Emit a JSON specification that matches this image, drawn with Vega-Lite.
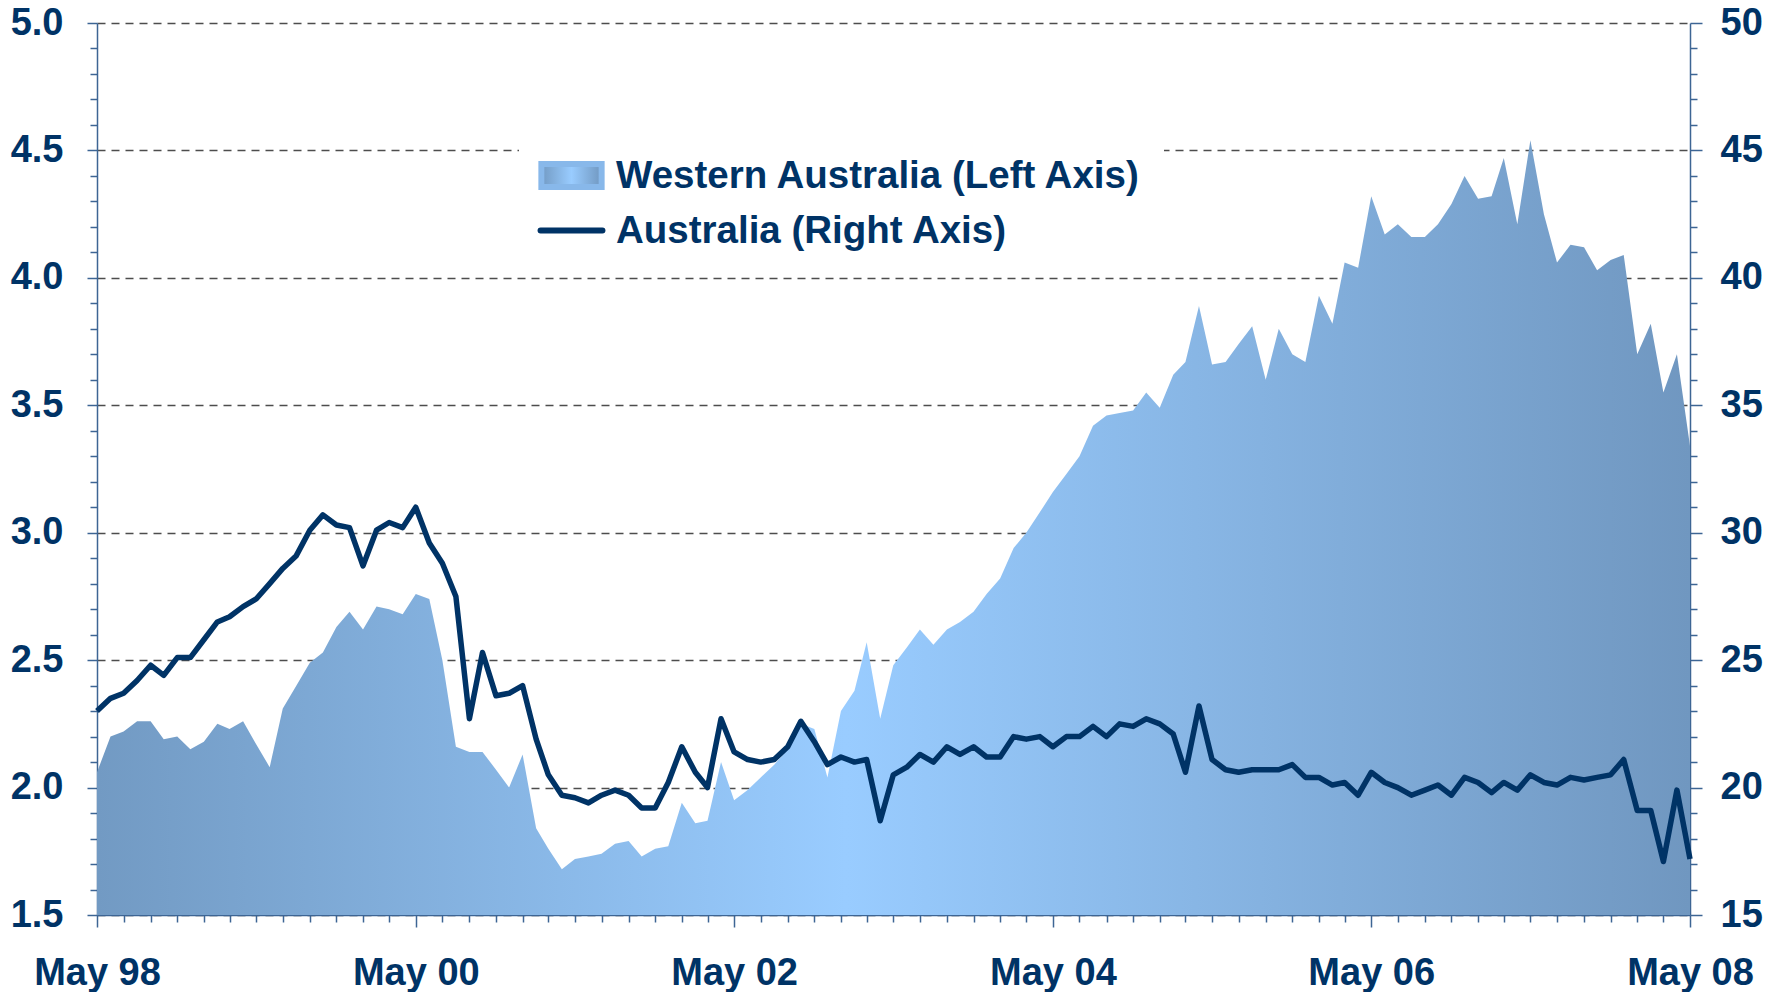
{
  "$schema": "https://vega.github.io/schema/vega-lite/v6.json",
  "width": 1593,
  "height": 892,
  "autosize": {"type": "none"},
  "padding": {"left": 97, "top": 23, "right": 92, "bottom": 77},
  "background": "white",
  "config": {
    "view": {"stroke": null},
    "font": "Liberation Sans",
    "axis": {
      "labelFont": "Liberation Sans",
      "labelFontSize": 38,
      "labelFontWeight": "bold",
      "labelColor": "#003366",
      "domainColor": "#3d6594",
      "domainWidth": 1.5,
      "tickColor": "#3d6594",
      "tickWidth": 1.5,
      "title": null
    }
  },
  "data": {"values": [
    {"date": "1998-05-01", "wa": 2.06, "au": 23.0},
    {"date": "1998-06-01", "wa": 2.20, "au": 23.5},
    {"date": "1998-07-01", "wa": 2.22, "au": 23.7},
    {"date": "1998-08-01", "wa": 2.26, "au": 24.2},
    {"date": "1998-09-01", "wa": 2.26, "au": 24.8},
    {"date": "1998-10-01", "wa": 2.19, "au": 24.4},
    {"date": "1998-11-01", "wa": 2.20, "au": 25.1},
    {"date": "1998-12-01", "wa": 2.15, "au": 25.1},
    {"date": "1999-01-01", "wa": 2.18, "au": 25.8},
    {"date": "1999-02-01", "wa": 2.25, "au": 26.5},
    {"date": "1999-03-01", "wa": 2.23, "au": 26.7},
    {"date": "1999-04-01", "wa": 2.26, "au": 27.1},
    {"date": "1999-05-01", "wa": 2.17, "au": 27.4},
    {"date": "1999-06-01", "wa": 2.08, "au": 28.0},
    {"date": "1999-07-01", "wa": 2.31, "au": 28.6},
    {"date": "1999-08-01", "wa": 2.40, "au": 29.1},
    {"date": "1999-09-01", "wa": 2.49, "au": 30.1},
    {"date": "1999-10-01", "wa": 2.53, "au": 30.7},
    {"date": "1999-11-01", "wa": 2.63, "au": 30.3},
    {"date": "1999-12-01", "wa": 2.69, "au": 30.2},
    {"date": "2000-01-01", "wa": 2.62, "au": 28.7},
    {"date": "2000-02-01", "wa": 2.71, "au": 30.1},
    {"date": "2000-03-01", "wa": 2.70, "au": 30.4},
    {"date": "2000-04-01", "wa": 2.68, "au": 30.2},
    {"date": "2000-05-01", "wa": 2.76, "au": 31.0},
    {"date": "2000-06-01", "wa": 2.74, "au": 29.6},
    {"date": "2000-07-01", "wa": 2.50, "au": 28.8},
    {"date": "2000-08-01", "wa": 2.16, "au": 27.5},
    {"date": "2000-09-01", "wa": 2.14, "au": 22.7},
    {"date": "2000-10-01", "wa": 2.14, "au": 25.3},
    {"date": "2000-11-01", "wa": 2.07, "au": 23.6},
    {"date": "2000-12-01", "wa": 2.00, "au": 23.7},
    {"date": "2001-01-01", "wa": 2.13, "au": 24.0},
    {"date": "2001-02-01", "wa": 1.84, "au": 21.9},
    {"date": "2001-03-01", "wa": 1.76, "au": 20.5},
    {"date": "2001-04-01", "wa": 1.68, "au": 19.7},
    {"date": "2001-05-01", "wa": 1.72, "au": 19.6},
    {"date": "2001-06-01", "wa": 1.73, "au": 19.4},
    {"date": "2001-07-01", "wa": 1.74, "au": 19.7},
    {"date": "2001-08-01", "wa": 1.78, "au": 19.9},
    {"date": "2001-09-01", "wa": 1.79, "au": 19.7},
    {"date": "2001-10-01", "wa": 1.73, "au": 19.2},
    {"date": "2001-11-01", "wa": 1.76, "au": 19.2},
    {"date": "2001-12-01", "wa": 1.77, "au": 20.2},
    {"date": "2002-01-01", "wa": 1.94, "au": 21.6},
    {"date": "2002-02-01", "wa": 1.86, "au": 20.6},
    {"date": "2002-03-01", "wa": 1.87, "au": 20.0},
    {"date": "2002-04-01", "wa": 2.10, "au": 22.7},
    {"date": "2002-05-01", "wa": 1.95, "au": 21.4},
    {"date": "2002-06-01", "wa": 1.99, "au": 21.1},
    {"date": "2002-07-01", "wa": 2.04, "au": 21.0},
    {"date": "2002-08-01", "wa": 2.09, "au": 21.1},
    {"date": "2002-09-01", "wa": 2.15, "au": 21.6},
    {"date": "2002-10-01", "wa": 2.25, "au": 22.6},
    {"date": "2002-11-01", "wa": 2.23, "au": 21.8},
    {"date": "2002-12-01", "wa": 2.04, "au": 20.9},
    {"date": "2003-01-01", "wa": 2.30, "au": 21.2},
    {"date": "2003-02-01", "wa": 2.38, "au": 21.0},
    {"date": "2003-03-01", "wa": 2.57, "au": 21.1},
    {"date": "2003-04-01", "wa": 2.27, "au": 18.7},
    {"date": "2003-05-01", "wa": 2.48, "au": 20.5},
    {"date": "2003-06-01", "wa": 2.55, "au": 20.8},
    {"date": "2003-07-01", "wa": 2.62, "au": 21.3},
    {"date": "2003-08-01", "wa": 2.56, "au": 21.0},
    {"date": "2003-09-01", "wa": 2.62, "au": 21.6},
    {"date": "2003-10-01", "wa": 2.65, "au": 21.3},
    {"date": "2003-11-01", "wa": 2.69, "au": 21.6},
    {"date": "2003-12-01", "wa": 2.76, "au": 21.2},
    {"date": "2004-01-01", "wa": 2.82, "au": 21.2},
    {"date": "2004-02-01", "wa": 2.94, "au": 22.0},
    {"date": "2004-03-01", "wa": 3.00, "au": 21.9},
    {"date": "2004-04-01", "wa": 3.08, "au": 22.0},
    {"date": "2004-05-01", "wa": 3.16, "au": 21.6},
    {"date": "2004-06-01", "wa": 3.23, "au": 22.0},
    {"date": "2004-07-01", "wa": 3.30, "au": 22.0},
    {"date": "2004-08-01", "wa": 3.42, "au": 22.4},
    {"date": "2004-09-01", "wa": 3.46, "au": 22.0},
    {"date": "2004-10-01", "wa": 3.47, "au": 22.5},
    {"date": "2004-11-01", "wa": 3.48, "au": 22.4},
    {"date": "2004-12-01", "wa": 3.55, "au": 22.7},
    {"date": "2005-01-01", "wa": 3.49, "au": 22.5},
    {"date": "2005-02-01", "wa": 3.62, "au": 22.1},
    {"date": "2005-03-01", "wa": 3.67, "au": 20.6},
    {"date": "2005-04-01", "wa": 3.89, "au": 23.2},
    {"date": "2005-05-01", "wa": 3.66, "au": 21.1},
    {"date": "2005-06-01", "wa": 3.67, "au": 20.7},
    {"date": "2005-07-01", "wa": 3.74, "au": 20.6},
    {"date": "2005-08-01", "wa": 3.81, "au": 20.7},
    {"date": "2005-09-01", "wa": 3.60, "au": 20.7},
    {"date": "2005-10-01", "wa": 3.80, "au": 20.7},
    {"date": "2005-11-01", "wa": 3.70, "au": 20.9},
    {"date": "2005-12-01", "wa": 3.67, "au": 20.4},
    {"date": "2006-01-01", "wa": 3.93, "au": 20.4},
    {"date": "2006-02-01", "wa": 3.82, "au": 20.1},
    {"date": "2006-03-01", "wa": 4.06, "au": 20.2},
    {"date": "2006-04-01", "wa": 4.04, "au": 19.7},
    {"date": "2006-05-01", "wa": 4.32, "au": 20.6},
    {"date": "2006-06-01", "wa": 4.17, "au": 20.2},
    {"date": "2006-07-01", "wa": 4.21, "au": 20.0},
    {"date": "2006-08-01", "wa": 4.16, "au": 19.7},
    {"date": "2006-09-01", "wa": 4.16, "au": 19.9},
    {"date": "2006-10-01", "wa": 4.21, "au": 20.1},
    {"date": "2006-11-01", "wa": 4.29, "au": 19.7},
    {"date": "2006-12-01", "wa": 4.40, "au": 20.4},
    {"date": "2007-01-01", "wa": 4.31, "au": 20.2},
    {"date": "2007-02-01", "wa": 4.32, "au": 19.8},
    {"date": "2007-03-01", "wa": 4.47, "au": 20.2},
    {"date": "2007-04-01", "wa": 4.21, "au": 19.9},
    {"date": "2007-05-01", "wa": 4.54, "au": 20.5},
    {"date": "2007-06-01", "wa": 4.25, "au": 20.2},
    {"date": "2007-07-01", "wa": 4.06, "au": 20.1},
    {"date": "2007-08-01", "wa": 4.13, "au": 20.4},
    {"date": "2007-09-01", "wa": 4.12, "au": 20.3},
    {"date": "2007-10-01", "wa": 4.03, "au": 20.4},
    {"date": "2007-11-01", "wa": 4.07, "au": 20.5},
    {"date": "2007-12-01", "wa": 4.09, "au": 21.1},
    {"date": "2008-01-01", "wa": 3.70, "au": 19.1},
    {"date": "2008-02-01", "wa": 3.82, "au": 19.1},
    {"date": "2008-03-01", "wa": 3.55, "au": 17.1},
    {"date": "2008-04-01", "wa": 3.70, "au": 19.9},
    {"date": "2008-05-01", "wa": 3.34, "au": 17.2}
  ]},
  "layer": [
    {
      "mark": {
        "type": "area",
        "color": {
          "gradient": "linear",
          "x1": 0, "y1": 0, "x2": 1, "y2": 0,
          "stops": [
            {"offset": 0, "color": "#729ac3"},
            {"offset": 0.47, "color": "#99ccff"},
            {"offset": 1, "color": "#7097c0"}
          ]
        }
      },
      "encoding": {
        "x": {
          "field": "date",
          "type": "temporal",
          "scale": {"type": "utc", "nice": false},
          "axis": {
            "orient": "bottom",
            "tickCount": {"interval": "month", "step": 2},
            "labelExpr": "(utcmonth(datum.value) === 4 && utcyear(datum.value) % 2 === 0) ? utcFormat(datum.value, '%b %y') : ''",
            "tickSize": {"condition": {"test": "utcmonth(datum.value) === 4 && utcyear(datum.value) % 2 === 0", "value": 12}, "value": 7},
            "labelOverlap": false,
            "labelFlush": false,
            "labelPadding": 27,
            "grid": false
          }
        },
        "y": {
          "field": "wa",
          "type": "quantitative",
          "scale": {"domain": [1.5, 5], "nice": false, "zero": false},
          "axis": {
            "orient": "left",
            "values": [1.5,1.6,1.7,1.8,1.9,2.0,2.1,2.2,2.3,2.4,2.5,2.6,2.7,2.8,2.9,3.0,3.1,3.2,3.3,3.4,3.5,3.6,3.7,3.8,3.9,4.0,4.1,4.2,4.3,4.4,4.5,4.6,4.7,4.8,4.9,5.0],
            "labelExpr": "abs(datum.value * 2 - round(datum.value * 2)) < 0.01 ? format(datum.value, '.1f') : ''",
            "tickSize": {"condition": {"test": "abs(datum.value * 2 - round(datum.value * 2)) < 0.01", "value": 10}, "value": 7},
            "labelPadding": 24,
            "grid": true,
            "gridColor": "#4d4d4d",
            "gridDash": [8, 6],
            "gridWidth": 1.3,
            "gridOpacity": {"condition": {"test": "abs(datum.value * 2 - round(datum.value * 2)) < 0.01", "value": 1}, "value": 0}
          }
        },
        "y2": {"datum": 1.5}
      }
    },
    {
      "mark": {"type": "line", "strokeWidth": 5.5, "strokeJoin": "round"},
      "encoding": {
        "x": {"field": "date", "type": "temporal"},
        "y": {
          "field": "au",
          "type": "quantitative",
          "scale": {"domain": [15, 50], "nice": false, "zero": false},
          "axis": {
            "orient": "right",
            "values": [15,16,17,18,19,20,21,22,23,24,25,26,27,28,29,30,31,32,33,34,35,36,37,38,39,40,41,42,43,44,45,46,47,48,49,50],
            "labelExpr": "datum.value % 5 === 0 ? datum.value : ''",
            "tickSize": {"condition": {"test": "datum.value % 5 === 0", "value": 12}, "value": 7},
            "labelPadding": 18,
            "grid": false
          }
        },
        "color": {
          "datum": "Australia (Right Axis)",
          "scale": {
            "domain": ["Western Australia (Left Axis)", "Australia (Right Axis)"],
            "range": ["#88b8ea", "#003366"]
          },
          "legend": {
            "orient": "none",
            "legendX": 422,
            "legendY": 100,
            "title": null,
            "fillColor": "white",
            "padding": 22,
            "symbolSize": 3000,
            "symbolStrokeWidth": 6,
            "labelFont": "Liberation Sans",
            "labelFontSize": 38.5,
            "labelFontWeight": "bold",
            "labelColor": "#003366",
            "labelOffset": 14,
            "rowPadding": 0,
            "labelLimit": 800,
            "encode": {
              "symbols": {
                "update": {
                  "shape": {"signal": "datum.value === 'Australia (Right Axis)' ? 'M-1.13,0H1.13' : 'M-1.1,-0.42H1.1V0.42H-1.1Z'"},
                  "fill": {"signal": "datum.value === 'Australia (Right Axis)' ? 'transparent' : {gradient: 'linear', x1: 0, y1: 0, x2: 1, y2: 0, stops: [{offset: 0, color: '#729ac3'}, {offset: 0.5, color: '#99ccff'}, {offset: 1, color: '#7097c0'}]}"},
                  "stroke": {"signal": "datum.value === 'Australia (Right Axis)' ? '#003366' : 'transparent'"},
                  "strokeWidth": {"value": 6},
                  "strokeCap": {"value": "round"},
                  "opacity": {"value": 1}
                }
              }
            }
          }
        }
      }
    }
  ],
  "resolve": {"scale": {"y": "independent"}}
}
